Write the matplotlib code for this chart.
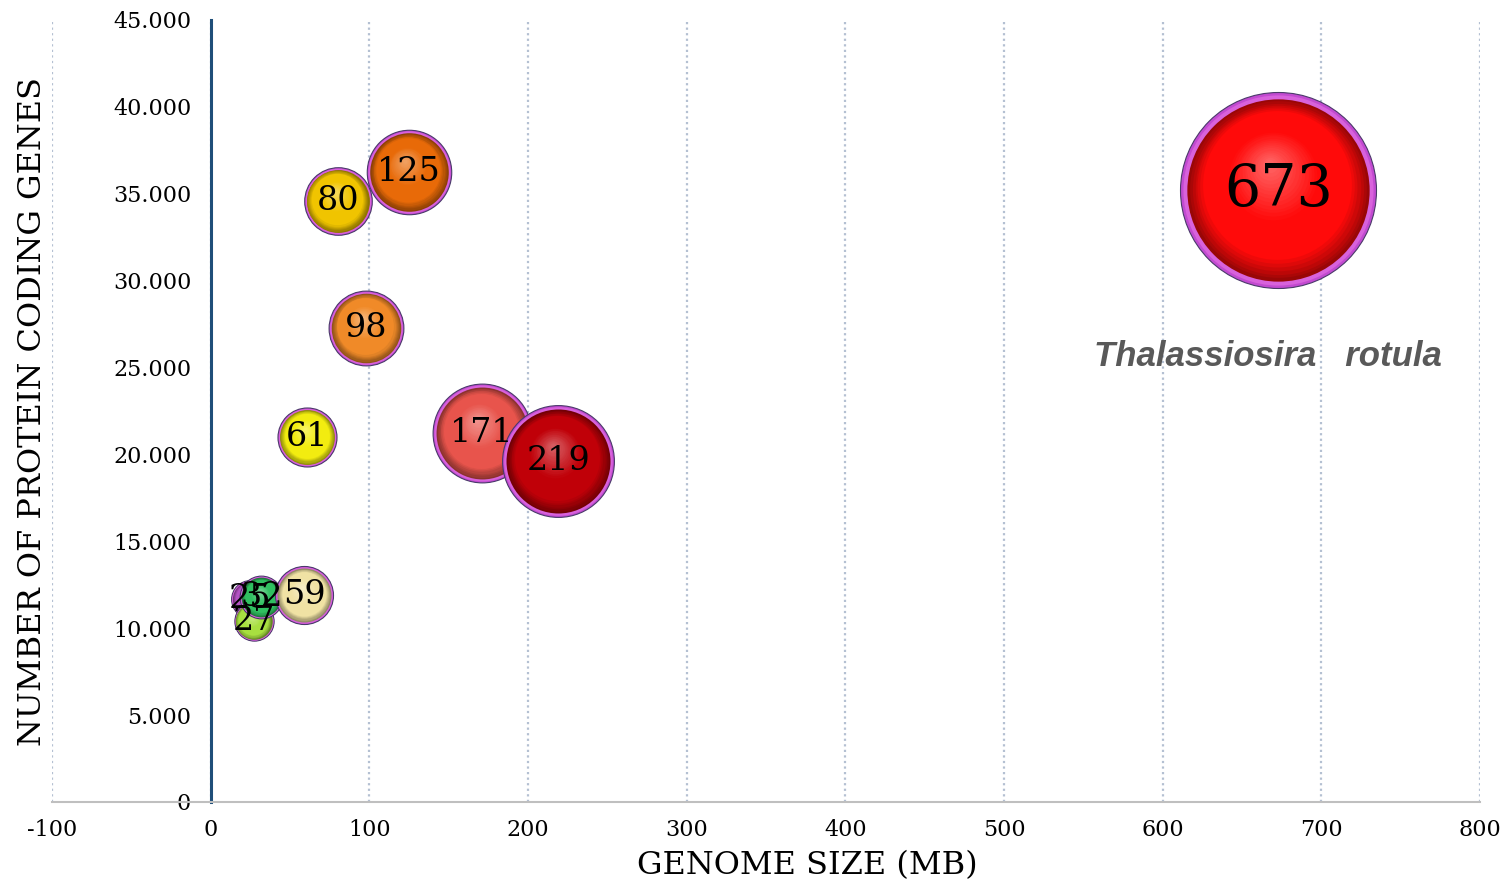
import matplotlib
matplotlib.use("Agg")
import matplotlib.pyplot as plt
import numpy as np
from matplotlib.colors import to_rgb
from matplotlib.transforms import offset_copy
from matplotlib.ticker import FuncFormatter

# genome size (Mb) -> x and bubble size, protein coding genes -> y
genome_mb = [673, 219, 171, 125, 98, 80, 61, 59, 32, 27, 25]
genes = [35200, 19620, 21230, 36250, 27270, 34580, 21000, 11910, 11780, 10400, 11700]
colors = ['#ff0a0a', '#c00008', '#e8544c', '#e86a08', '#f08a28', '#f0c400',
          '#f2ec10', '#f0e2a4', '#30c060', '#a8e040', '#b452c4']

xticks = [-100, 0, 100, 200, 300, 400, 500, 600, 700, 800]
yticks = [0, 5000, 10000, 15000, 20000, 25000, 30000, 35000, 40000, 45000]

num_font = 'DejaVu Serif'
plt.rcParams['axes.unicode_minus'] = False

fig = plt.figure(figsize=(15.11, 8.85), dpi=100)
ax = fig.add_axes([52/1511, 1-802/885, 1428/1511, 782/885])
ax.set_xlim(-100, 800)
ax.set_ylim(0, 45000)


def mix(c, other, t):
    c = np.array(to_rgb(c)); o = np.array(to_rgb(other))
    return tuple(c*(1-t) + o*t)


def sphere(x, y, v, base, z):
    r = 2.72*np.sqrt(v)          # radius in points
    s = (2*r)**2
    # magenta rim
    ax.scatter([x], [y], s=s, color='#c24ad0', edgecolors='#4a3a6a', linewidths=0.8, zorder=z)
    ax.scatter([x], [y], s=s*0.97**2, color='#d862dc', linewidths=0, zorder=z)
    dark = mix(base, 'black', 0.4)
    light = mix(base, 'white', 0.4)
    f0 = 0.93
    for f in np.linspace(f0, 0.05, 32):
        t = 1 - f/f0
        if t < 0.5:
            col = mix(dark, base, min(1, t/0.18))
        else:
            col = mix(base, light, (t-0.5)/0.5)
        tr = offset_copy(ax.transData, fig=fig, x=-0.10*r*t, y=0.28*r*t, units='points')
        ax.scatter([x], [y], s=s*f**2, color=col, linewidths=0, transform=tr, zorder=z)


order = np.argsort(genome_mb)
for k, i in enumerate(order):
    sphere(genome_mb[i], genes[i], genome_mb[i], colors[i], 3 + k*0.01)

for gx, gy in zip(genome_mb, genes):
    fs = 41 if gx == max(genome_mb) else 24
    ax.text(gx, gy, str(gx), ha='center', va='center', fontsize=fs,
            family=num_font, color='black', zorder=10)

ax.text(557, 25650, 'Thalassiosira   rotula', fontsize=25, style='italic', weight='bold',
        family='Liberation Sans', color='#595959', ha='left', va='center',
        clip_on=False, zorder=10)

# axes styling
for side in ['top', 'right']:
    ax.spines[side].set_visible(False)
ax.spines['left'].set_position(('data', 0))
ax.spines['left'].set_color('#1f4e79')
ax.spines['left'].set_linewidth(2.2)
ax.spines['bottom'].set_color('#bfbfbf')
ax.spines['bottom'].set_linewidth(1.5)
ax.spines['left'].set_zorder(2)

ax.set_xticks(xticks)
ax.set_yticks(yticks)
ax.yaxis.set_major_formatter(FuncFormatter(lambda v, p: f'{int(v):,}'.replace(',', '.')))
ax.tick_params(axis='both', length=0, labelsize=16)
ax.tick_params(axis='y', pad=14)
ax.tick_params(axis='x', pad=12)
for lab in ax.get_xticklabels() + ax.get_yticklabels():
    lab.set_family(num_font)

ax.grid(axis='x', color='#b4c0d2', linestyle=(0, (1, 1.5)), linewidth=1.6, zorder=0)
ax.set_axisbelow(True)

ax.set_xlabel('GENOME SIZE (MB)', fontsize=23, family=num_font, va='top')
ax.xaxis.set_label_coords(0.529, -0.062)
ax.set_ylabel('NUMBER OF PROTEIN CODING GENES', fontsize=23, family=num_font)
ax.yaxis.set_label_coords(-0.003, 0.5)

fig.savefig('out.png', dpi=100)
